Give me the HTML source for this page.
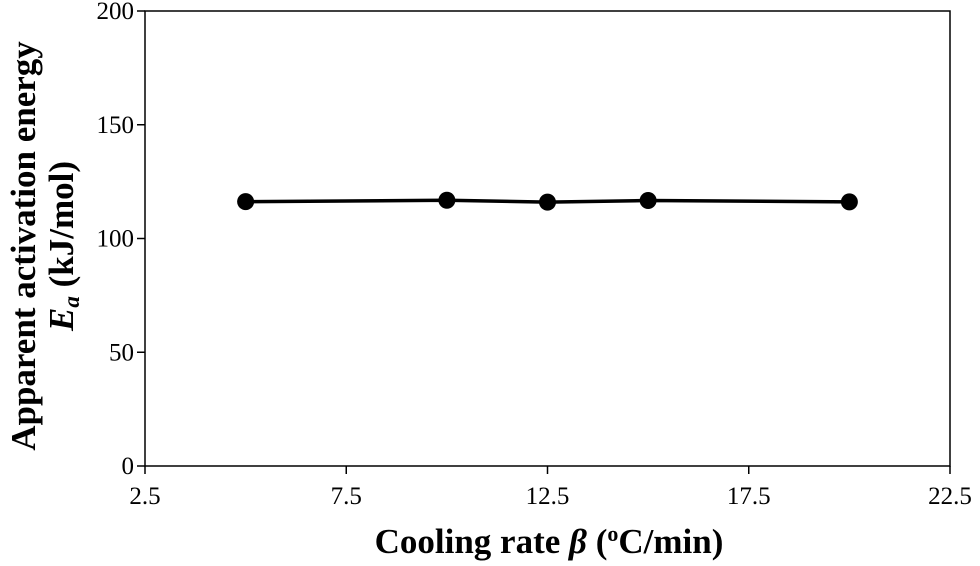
<!DOCTYPE html>
<html><head><meta charset="utf-8"><style>
html,body{margin:0;padding:0;background:#fff;}
svg{display:block;font-family:"Liberation Serif",serif;}
</style></head><body>
<svg id="chart" width="980" height="566" viewBox="0 0 980 566" xmlns="http://www.w3.org/2000/svg">
<g id="axes"></g>
<g id="marks"></g>
<text x="549" y="553" text-anchor="middle" font-size="35" font-weight="bold">Cooling rate <tspan font-style="italic">β</tspan> (<tspan font-size="22" dy="-12">o</tspan><tspan dy="12">C/min)</tspan></text>
<g font-size="35" font-weight="bold" text-anchor="middle">
<text x="0" y="0" transform="translate(35,246) rotate(-90)">Apparent activation energy</text>
<text x="0" y="0" transform="translate(73,246) rotate(-90)"><tspan font-style="italic">E</tspan><tspan font-style="italic" font-size="23" dy="6">a</tspan><tspan dy="-6">  (kJ/mol)</tspan></text>
</g>
</svg>
<script>
const xTicks=[2.5,7.5,12.5,17.5,22.5];
const yTicks=[0,50,100,150,200];
const rates=[5,10,12.5,15,20];
const energies=[116.2,116.8,116.0,116.7,116.1];
const L=145,R=950,T=11,B=466;
const xs=v=>L+(v-2.5)/(22.5-2.5)*(R-L);
const ys=v=>B-v/200*(B-T);
const NS="http://www.w3.org/2000/svg";
function mk(tag,attrs,parent){const e=document.createElementNS(NS,tag);for(const k in attrs)e.setAttribute(k,attrs[k]);parent.appendChild(e);return e;}
const ax=document.getElementById('axes'),mg=document.getElementById('marks');
const frame=mk('rect',{x:L,y:T,width:R-L,height:B-T,fill:'none',stroke:'#000','stroke-width':1.5},ax);


xTicks.forEach(t=>{
  const l=mk('line',{x1:xs(t),x2:xs(t),y1:B,y2:B+8,stroke:'#000','stroke-width':1.5},ax);
  
  
  const tx=mk('text',{x:xs(t),y:B+38,'text-anchor':'middle','font-size':25},ax);
  tx.textContent=t.toFixed(1);
  
  
});
yTicks.forEach(t=>{
  const l=mk('line',{x1:L-8,x2:L,y1:ys(t),y2:ys(t),stroke:'#000','stroke-width':1.5},ax);
  
  
  const tx=mk('text',{x:L-11,y:ys(t)+8,'text-anchor':'end','font-size':25},ax);
  tx.textContent=t;
  
  
});
const line=mk('polyline',{points:rates.map((r,i)=>xs(r)+','+ys(energies[i])).join(' '),fill:'none',stroke:'#000','stroke-width':3.5},mg);


rates.forEach((r,i)=>{
  const c=mk('circle',{cx:xs(r),cy:ys(energies[i]),r:8.5,fill:'#000'},mg);
  
  
});
</script>
</body></html>
